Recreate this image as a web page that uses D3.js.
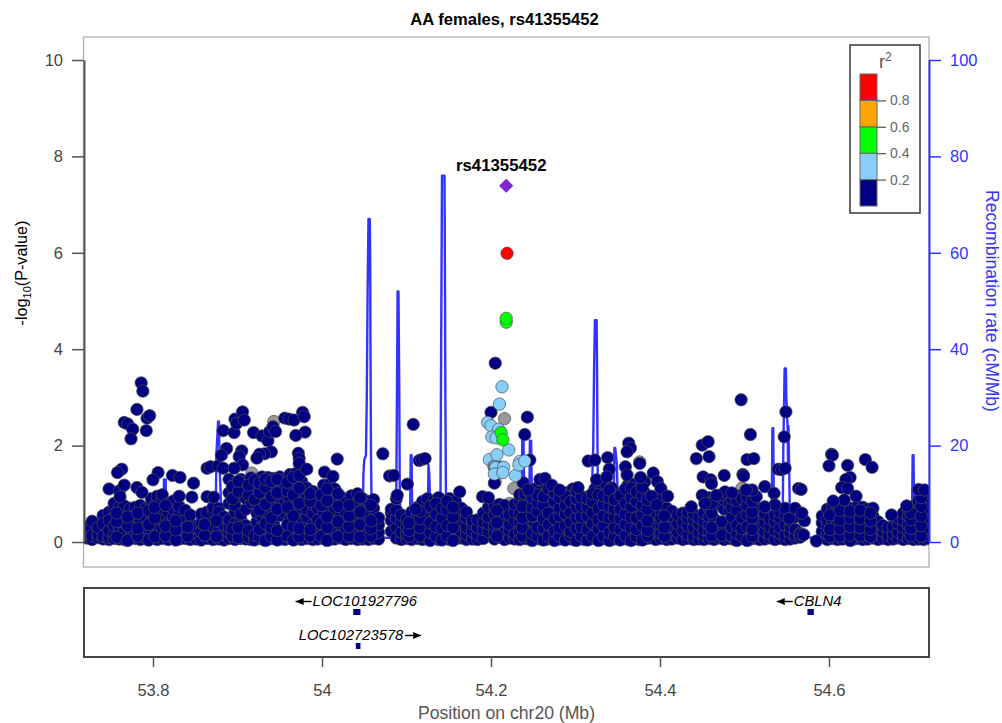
<!DOCTYPE html>
<html lang="en">
<head>
<meta charset="UTF-8">
<title>AA females, rs41355452</title>
<script src="https://d3js.org/d3.v7.min.js"></script>
<style>
  body { margin: 0; background: #fff; font-family: "Liberation Sans", Arial, sans-serif; }
  svg { display: block; }
</style>
</head>
<body>
<svg width="1002" height="723"></svg>
<script>
const leadSnp = { name: "rs41355452", pos: 54.218, logp: 7.39 };

const redPoints = [[54.219, 5.99]];

const greenPoints = [[54.218, 4.56], [54.218, 4.64], [54.212, 2.27], [54.214, 2.12]];

const bluePoints = [
  [54.213, 3.22], [54.210, 2.86], [54.196, 2.48], [54.200, 2.41], [54.209, 2.34], [54.201, 2.18],
  [54.206, 2.16], [54.221, 1.91], [54.198, 1.71], [54.2035, 1.58], [54.204, 1.55], [54.2045, 1.53],
  [54.205, 1.56], [54.2055, 1.54], [54.204, 1.41], [54.207, 1.81], [54.215, 1.55], [54.214, 1.44],
  [54.229, 1.38], [54.234, 1.67], [54.233, 1.60], [54.240, 1.68]
];

const grayPoints = [
  [53.943, 2.50], [53.917, 1.43], [53.868, .15], [54.216, 2.56], [54.227, 1.11], [54.222, .80],
  [54.205, 1.25], [54.497, 1.12], [54.378, 1.0], [54.376, 1.66]
];

// isolated points above the dense band
const navyPoints = [
  [53.786, 3.30], [53.788, 3.13], [53.781, 2.75], [53.766, 2.48], [53.770, 2.45], [53.776, 2.34],
  [53.774, 2.14], [53.793, 2.57], [53.796, 2.62], [53.792, 2.31], [53.763, 1.51], [53.758, 1.44],
  [53.748, 1.10], [53.760, 1.06], [53.766, 1.18], [53.761, .94], [53.781, 1.13], [53.787, 1.03],
  [53.806, 1.44], [53.800, 1.29], [53.823, 1.38], [53.832, 1.34], [53.848, 1.22], [53.831, .95],
  [53.846, .93], [53.864, .94], [53.872, .93], [53.864, 1.53], [53.868, 1.56], [53.877, 1.58],
  [53.883, 1.53], [53.883, 2.31], [53.887, 1.94], [53.881, 1.80], [53.896, 2.27], [53.897, 2.55],
  [53.899, 2.46], [53.906, 2.70], [53.908, 2.53], [53.905, 1.89], [53.902, 1.77], [53.906, 1.60],
  [53.896, 1.53], [53.919, 2.27], [53.929, 2.20], [53.936, 2.10], [53.938, 2.29], [53.942, 2.39],
  [53.945, 2.29], [53.940, 1.87], [53.932, 1.83], [53.926, 1.82], [53.923, 1.74], [53.956, 2.57],
  [53.961, 2.55], [53.967, 2.53], [53.977, 2.69], [53.979, 2.60], [53.980, 2.28], [53.969, 2.21],
  [53.972, 1.84], [53.973, 1.73], [53.973, 1.63], [53.982, 1.51], [54.018, 1.72], [54.003, 1.45],
  [54.013, 1.36], [54.072, 1.83], [54.108, 2.44], [54.080, 1.37], [54.085, 1.38], [54.101, 1.20],
  [54.115, 1.69], [54.118, 1.71], [54.122, 1.73], [54.089, .97], [54.111, .68], [54.163, 1.04],
  [54.190, .94], [54.197, .92], [54.205, 3.71], [54.200, 2.69], [54.243, 2.59], [54.240, 2.23],
  [54.246, 1.70], [54.212, 1.55], [54.204, 1.22], [54.315, 1.68], [54.323, 1.70], [54.338, 1.75],
  [54.340, 1.51], [54.359, 1.56], [54.363, 2.05], [54.365, 1.95], [54.361, 1.87], [54.376, 1.63],
  [54.377, 1.34], [54.392, 1.43], [54.397, 1.25], [54.401, 1.11], [54.409, .95], [54.390, .95],
  [54.396, .77], [54.361, 1.39], [54.325, 1.29], [54.337, 1.35], [54.238, 1.23], [54.244, 1.08],
  [54.258, 1.30], [54.264, 1.32], [54.272, 1.18], [54.281, 1.08], [54.303, 1.13], [54.496, 2.95],
  [54.507, 2.23], [54.549, 2.70], [54.547, 2.18], [54.450, 2.01], [54.457, 2.08], [54.443, 1.73],
  [54.458, 1.77], [54.503, 1.71], [54.511, 1.73], [54.498, 1.40], [54.499, 1.37], [54.476, 1.38],
  [54.451, 1.35], [54.460, 1.29], [54.461, 1.21], [54.540, 1.51], [54.544, 1.50], [54.548, 1.53],
  [54.524, 1.15], [54.535, 1.01], [54.450, .97], [54.453, .80], [54.564, 1.11], [54.567, 1.09],
  [54.603, 1.82], [54.604, 1.80], [54.600, 1.58], [54.622, 1.59], [54.643, 1.71], [54.651, 1.55],
  [54.625, 1.34], [54.620, 1.30], [54.615, 1.13], [54.622, 1.11], [54.632, .95], [54.618, .87],
  [54.605, .85], [54.706, 1.09], [54.713, 1.08], [54.692, .75], [54.674, .56], [54.585, .02],
  [54.570, .15], [54.571, .44], [54.553, .49], [54.536, .77], [54.524, .73], [54.514, .94],
  [54.509, 1.08], [54.502, 1.08], [54.560, .70], [54.568, .60], [54.437, .73], [54.477, 1.04],
  [54.485, 1.02], [54.467, .97]
];

// dense band near the baseline: [position, -log10(P) values read at that position]
const navyBand = [
  [53.722, [.08, .2, .32]], [53.728, [.05, .13, .43]], [53.735, [.09, .16, .3]],
  [53.741, [.06, .12, .55, .38]], [53.748, [.05, .1, .24, .62, .45]], [53.754, [.07, .18, .34, .68, .8]],
  [53.760, [.06, .15, .3, .5, .72]], [53.766, [.05, .22, .4, .62, .75]], [53.773, [.09, .26, .46, .58, .7]],
  [53.779, [.07, .17, .34, .55, .72]], [53.785, [.05, .2, .42, .66, .76]], [53.792, [.06, .14, .3, .52, .7]],
  [53.798, [.08, .24, .44, .6, .78, .9]], [53.805, [.05, .16, .36, .58, .84, .95]], [53.811, [.07, .28, .5, .7, .88, .98]],
  [53.818, [.05, .2, .4, .62, .8]], [53.824, [.08, .3, .52, .68, .85]], [53.831, [.06, .18, .36, .6, .74]],
  [53.838, [.07, .24, .46, .66]], [53.844, [.05, .15, .38, .56]], [53.851, [.06, .2, .3]],
  [53.857, [.04, .22, .4, .58]], [53.864, [.07, .28, .5, .62]], [53.871, [.05, .18, .33, .66, .72]],
  [53.878, [.06, .24, .42, .7, .62]], [53.884, [.04, .15, .36, .52]], [53.890, [.07, .2, .31, .46, .8, 1.02, 1.3]],
  [53.897, [.05, .18, .38, .62, .76, 1.0, 1.22]], [53.904, [.07, .22, .46, .58, .95, 1.3, 1.12]],
  [53.910, [.06, .14, .34, .68, .9, 1.08, 1.25]], [53.916, [.05, .25, .82, 1.0, 1.2, 1.33]],
  [53.923, [.08, .2, .42, .6, .78, .96, 1.14, 1.3]], [53.929, [.06, .15, .32, .52, .72, .9, 1.08, 1.35]],
  [53.936, [.05, .22, .44, .6, .84, 1.02, 1.2, 1.34]], [53.943, [.07, .18, .36, .65, .8, 1.1, 1.32]],
  [53.950, [.06, .14, .55, .74, .92, 1.15, 1.35]], [53.956, [.05, .2, .6, .82, 1.0, 1.18, 1.3]],
  [53.962, [.08, .26, .48, .66, .88, 1.1, 1.28, 1.4]], [53.969, [.06, .16, .38, .58, .76, .95, 1.2, 1.42]],
  [53.976, [.05, .22, .44, .7, .86, 1.04, 1.25]], [53.982, [.07, .3, .52, .68, .9, 1.12]],
  [53.989, [.05, .18, .36, .6, .78, .96, 1.05]], [53.995, [.06, .24, .46, .7, .88]],
  [54.002, [.07, .15, .34, .62, .8, 1.0, 1.18]], [54.009, [.05, .2, .42, .72, .92, 1.2]],
  [54.015, [.06, .28, .5, .66, .86, 1.1]], [54.022, [.08, .16, .36, .58, .78, .94]],
  [54.028, [.05, .24, .44, .62, .82]], [54.035, [.07, .2, .38, .72, .96]], [54.042, [.05, .15, .3, .56, .8, 1.0]],
  [54.048, [.06, .26, .46, .68, .9]], [54.055, [.05, .18, .36, .6, .84]], [54.061, [.07, .12, .34, .5, .7, .88]],
  [54.067, [.06, .2, .36, .5]], [54.082, [.22, .45, .6, .68]], [54.088, [.08, .3, .5, .66, .9]],
  [54.094, [.05, .2, .42, .56]], [54.100, [.07, .16, .3, .48]], [54.106, [.05, .26, .44, .62]],
  [54.113, [.07, .18, .36, .54, .72]], [54.119, [.05, .22, .4, .62, .84]], [54.125, [.06, .14, .32, .56, .9]],
  [54.132, [.08, .26, .46, .64, .85]], [54.138, [.05, .18, .34, .52, .74, .92]], [54.145, [.07, .22, .42, .6, .8]],
  [54.151, [.05, .15, .38, .58, .76, .9]], [54.158, [.06, .24, .44, .66, .84]], [54.165, [.08, .2, .36, .54, .7]],
  [54.171, [.05, .16, .3, .5, .62]], [54.178, [.06, .22, .38, .44]], [54.184, [.05, .15, .3, .46]],
  [54.191, [.07, .26, .42, .6]], [54.197, [.22, .38, .52, .72]], [54.204, [.06, .18, .34, .58, .74]],
  [54.210, [.1, .28, .46, .7, .78]], [54.216, [.05, .2, .42, .6, .76]], [54.222, [.08, .24, .36, .56]],
  [54.228, [.06, .16, .44, .62, .78]], [54.234, [.05, .22, .4, .58, .84, .98]], [54.240, [.07, .18, .34, .66, .9, 1.0]],
  [54.246, [.05, .26, .46, .62, .8, 1.0]], [54.252, [.08, .15, .38, .56, .74, .94, 1.1]], [54.258, [.06, .22, .42, .7, .88, 1.05]],
  [54.265, [.05, .18, .32, .52, .82, 1.0, 1.2]], [54.271, [.07, .26, .4, .78, .92, 1.1]], [54.278, [.05, .14, .36, .58, .74, .94]],
  [54.284, [.06, .2, .44, .64, .84, 1.0]], [54.291, [.08, .28, .5, .7, .9, 1.03]], [54.297, [.05, .16, .34, .56, .78, .98, 1.1]],
  [54.304, [.07, .22, .42, .6, .82, 1.0]], [54.310, [.05, .18, .38, .66, .86]], [54.317, [.06, .24, .46, .62, .8, .96]],
  [54.323, [.08, .15, .32, .52, .74, .94, 1.1]], [54.330, [.05, .2, .4, .6, .88, 1.06]], [54.336, [.07, .26, .44, .68, .84, 1.2]],
  [54.343, [.05, .16, .36, .58, .8, 1.0, 1.12]], [54.349, [.06, .22, .42, .64, .92, .74]], [54.356, [.08, .18, .3, .54, .76, 1.04]],
  [54.362, [.05, .24, .46, .66, .86, 1.18]], [54.369, [.07, .15, .38, .6, .78, .98, 1.2]], [54.375, [.05, .2, .42, .7, .9, 1.12]],
  [54.382, [.06, .28, .5, .62, .84, 1.02, 1.25]], [54.388, [.08, .16, .34, .56, .72, .92]], [54.395, [.05, .22, .4, .58, .6]],
  [54.401, [.07, .18, .36, .5, .66, .9]], [54.408, [.05, .26, .44, .6, .7]], [54.414, [.06, .15, .32, .54, .64]],
  [54.421, [.08, .2, .38, .56]], [54.427, [.05, .24, .42, .6]], [54.433, [.07, .16, .34, .5, .62]],
  [54.440, [.05, .12, .3, .46, .58]], [54.446, [.06, .2, .38, .5]], [54.452, [.05, .14, .26, .44, .6]],
  [54.458, [.07, .22, .36, .52, .7, .92]], [54.464, [.05, .16, .4, .48, .86]], [54.470, [.08, .24, .34, .9, .78]],
  [54.476, [.05, .18, .3, .68, .88]], [54.482, [.07, .14, .38, .66, .8, .98]], [54.488, [.05, .26, .46, .6, .84]],
  [54.494, [.06, .2, .4, .58, .74, .96]], [54.500, [.08, .16, .36, .62, .82, 1.0]], [54.506, [.05, .24, .44, .68, .9, 1.04]],
  [54.512, [.07, .18, .34, .56, .76, .96]], [54.518, [.05, .14, .3, .5, .66]], [54.524, [.06, .22, .4, .58]],
  [54.530, [.08, .16, .32, .48]], [54.536, [.05, .24, .42, .56]], [54.542, [.07, .18, .3, .5, .62]],
  [54.548, [.05, .14, .36, .56, .7]], [54.554, [.06, .2, .32, .44]], [54.560, [.08, .14, .26, .52]],
  [54.566, [.1, .18, .16]], [54.592, [.09, .22, .4, .54]], [54.598, [.05, .16, .32, .46, .68]],
  [54.604, [.07, .24, .42, .6, .74]], [54.610, [.05, .18, .36, .56, .76]], [54.616, [.06, .14, .3, .48, .66]],
  [54.622, [.08, .22, .4, .58, .72]], [54.628, [.05, .16, .34, .52, .7]], [54.634, [.07, .2, .38, .6, .74]],
  [54.640, [.05, .26, .44, .56, .72]], [54.646, [.06, .14, .32, .5, .68]], [54.652, [.08, .2, .36, .54, .7]],
  [54.658, [.05, .16, .28, .42]], [54.664, [.07, .22, .34]], [54.670, [.05, .14, .3]],
  [54.676, [.06, .18, .32]], [54.682, [.08, .2, .38, .5]], [54.688, [.05, .14, .3, .46, .6]],
  [54.694, [.07, .22, .36, .54, .68]], [54.700, [.05, .16, .4, .62, .74]], [54.706, [.06, .24, .44, .66, .86]],
  [54.712, [.05, .18, .34, .58, .8, .98]], [54.717, [.07, .14, .3, .52, .72, .94]]
];

// more points in the crowded stretches, read between the columns above
const navyBandExtra = [
  [53.757, [.1, .42, .6]], [53.770, [.03, .33, .52]], [53.782, [.12, .28, .6]], [53.795, [.04, .36, .65]],
  [53.802, [.11, .5, .72]], [53.815, [.13, .33, .76]], [53.827, [.04, .25, .44]], [53.841, [.12, .31]],
  [53.861, [.14, .36]], [53.875, [.11, .44]], [53.894, [.12, .28, .9, 1.15]], [53.901, [.09, .3, 1.05, 1.26]],
  [53.913, [.1, .24, .98, 1.18]], [53.920, [.04, .14, .88, 1.28]], [53.926, [.11, .26, .66, 1.02, 1.22]],
  [53.933, [.03, .38, .78, 1.14, 1.3]], [53.940, [.12, .3, .5, .94, 1.26]], [53.947, [.04, .24, .68, 1.02, 1.3]],
  [53.959, [.12, .36, .72, 1.06, 1.24]], [53.966, [.04, .32, .54, .98, 1.34]], [53.973, [.11, .28, .8, 1.12, 1.38]],
  [53.986, [.12, .26, .84, 1.0]], [53.999, [.12, .38, .76, .98]], [54.006, [.03, .3, .52, .86, 1.1]],
  [54.019, [.11, .42, .74, 1.0]], [54.032, [.12, .32, .54, .76]], [54.045, [.1, .36, .62, .92]],
  [54.058, [.12, .28, .44, .76]], [54.103, [.12, .24, .4]], [54.116, [.12, .3, .48, .64]],
  [54.128, [.03, .2, .4, .74]], [54.135, [.12, .32, .58, .8]], [54.142, [.04, .28, .5, .7]],
  [54.148, [.12, .34, .66, .84]], [54.155, [.03, .3, .52, .72]], [54.207, [.12, .4, .66]],
  [54.237, [.12, .3, .5, .74]], [54.249, [.03, .18, .54, .72, .92]], [54.255, [.12, .3, .64, .82, .98]],
  [54.262, [.04, .28, .48, .76, .94]], [54.268, [.12, .36, .6, 1.1]], [54.275, [.03, .22, .48, .84, 1.02]],
  [54.281, [.12, .3, .54, .7, .92]], [54.288, [.04, .34, .58, .76, .96]], [54.294, [.13, .22, .42, .62, .84]],
  [54.301, [.03, .28, .5, .72, .9, 1.06]], [54.307, [.12, .32, .52, .74, .94]], [54.314, [.04, .26, .54, .72, .9]],
  [54.320, [.11, .38, .6, .84, 1.0]], [54.327, [.03, .28, .46, .7, .98]], [54.333, [.12, .34, .54, .78, .96]],
  [54.340, [.03, .2, .5, .74, .92, 1.08]], [54.346, [.12, .3, .52, .7, .88]], [54.353, [.04, .26, .48, .68, .96]],
  [54.359, [.13, .36, .58, .8, 1.1]], [54.366, [.03, .3, .52, .74, .92, 1.12]], [54.372, [.11, .26, .5, .84, 1.04]],
  [54.379, [.04, .34, .56, .76, .96, 1.14]], [54.385, [.12, .24, .44, .68, .88]], [54.405, [.12, .3, .54]],
  [54.461, [.13, .3, .6, .8]], [54.473, [.14, .42, .98]], [54.485, [.12, .3, .52, .72, .9]],
  [54.491, [.03, .18, .34, .66, .86]], [54.497, [.12, .28, .5, .9]], [54.503, [.03, .32, .56, .76, .94]],
  [54.509, [.12, .26, .5, .62, .84]], [54.601, [.11, .26, .56]], [54.613, [.12, .28, .46, .66]],
  [54.625, [.03, .14, .32, .5, .64]], [54.637, [.13, .3, .48, .66]], [54.649, [.11, .26, .44, .6]],
  [54.697, [.13, .28, .46, .6]], [54.709, [.12, .34, .54, .74, .92]]
];

// recombination rate, cM/Mb
const recombPos = [
  53.718, 53.760, 53.790, 53.812, 53.813, 53.815, 53.816, 53.840, 53.874, 53.875, 53.877, 53.878, 53.879, 53.882,
  53.960, 54.030, 54.048, 54.049, 54.050, 54.052, 54.053, 54.054, 54.0550, 54.0565, 54.0570, 54.0575, 54.058, 54.059,
  54.087, 54.088, 54.0895, 54.0905, 54.0915, 54.092, 54.093, 54.104, 54.105, 54.106, 54.107, 54.125, 54.126, 54.127, 54.129,
  54.140, 54.141, 54.142, 54.1425, 54.1445, 54.145, 54.1455, 54.146, 54.147, 54.236, 54.237, 54.2385, 54.240,
  54.245, 54.246, 54.2475, 54.249, 54.318, 54.320, 54.321, 54.322, 54.323, 54.325, 54.3255, 54.326, 54.327, 54.345, 54.346, 54.347, 54.349, 54.351,
  54.532, 54.533, 54.534, 54.535, 54.545, 54.546, 54.5475, 54.5490, 54.5495, 54.551, 54.5515, 54.552, 54.553, 54.554,
  54.698, 54.699, 54.700, 54.7005, 54.701, 54.718
];
const recombRate = [
  .5, .6, .5, .8, 13, 13, .8, .5, 1, 18, 25, 25, 15, 1,
  .5, .6, 1, 14, 17, 18, 30, 52, 67, 67, 60, 35, 18, 1,
  .8, 12, 52, 52, 30, 12, 1, .8, 18, 18, 1, .8, 16, 14, 1,
  1, 40, 76, 76, 76, 76, 55, 30, 1, .6, 21, 21, 1,
  1, 21, 21, 1, .6, 14, 20, 36, 46, 46, 36, 20, 1, 1, 19.5, 19.5, 16, 1,
  .6, 23.6, 23.6, 1, 1, 20, 36, 36, 30, 24, 16, 24, 14, 1,
  .6, 18, 18, 10, 1, .6
];

const r2Ticks = [0.2, 0.4, 0.6, 0.8];
const r2Bands = [[0, .2, "#000080"], [.2, .4, "#87CEFA"], [.4, .6, "#00FF00"], [.6, .8, "#FFA500"], [.8, 1, "#FF0000"]];

const genes = [
  { name: "LOC101927796", start: 54.037, end: 54.0455, strand: -1, row: 0 },
  { name: "LOC102723578", start: 54.040, end: 54.0455, strand: 1, row: 1 },
  { name: "CBLN4", start: 54.5745, end: 54.582, strand: -1, row: 0 }
];

const logpTicks = [0, 2, 4, 6, 8, 10];
const rateTicks = [0, 20, 40, 60, 80, 100];
const posTicks = [53.8, 54, 54.2, 54.4, 54.6];

const svg = d3.select("svg");
const frame = { left: 84, right: 929, top: 37, bottom: 567 };
const genePanel = { top: 588, bottom: 657 };

const x = d3.scaleLinear().domain([53.8, 54.6]).range([153, 829]);
const y = d3.scaleLinear().domain([0, 10]).range([542, 60]);
const yRate = d3.scaleLinear().domain([0, 100]).range([542, 60]);
const yR2 = d3.scaleLinear().domain([0, 1]).range([206, 74]);

const gray = "#555";
const blue = "#3333FF";

svg.append("defs").append("clipPath").attr("id", "plotClip").append("rect")
  .attr("x", frame.left).attr("y", frame.top)
  .attr("width", frame.right - frame.left).attr("height", frame.bottom - frame.top);

// main panel frame
svg.append("rect")
  .attr("x", frame.left - .5).attr("y", frame.top)
  .attr("width", frame.right - frame.left + .5).attr("height", frame.bottom - frame.top)
  .attr("fill", "none").attr("stroke", "#b0b0b0").attr("stroke-width", 1.3);

// recombination line
const recombLine = d3.line().x(d => x(d[0])).y(d => yRate(d[1]));
svg.append("path")
  .datum(recombPos.map((p, i) => [p, recombRate[i]]))
  .attr("clip-path", "url(#plotClip)")
  .attr("fill", "none").attr("stroke", blue).attr("stroke-width", 2.4)
  .attr("stroke-linejoin", "round")
  .attr("d", recombLine);

// points
const bandPoints = navyBand.concat(navyBandExtra).flatMap(c => c[1].map(v => [c[0], v]));
const layers = [
  [grayPoints, "#999999"],
  [bandPoints, "#000080"],
  [navyPoints, "#000080"],
  [bluePoints, "#87CEFA"],
  [greenPoints, "#00FF00"],
  [redPoints, "#FF0000"]
];
const pts = svg.append("g").attr("clip-path", "url(#plotClip)");
layers.forEach(([list, color]) => {
  pts.append("g").selectAll("circle")
    .data(list)
    .enter().append("circle")
    .attr("cx", d => x(d[0]))
    .attr("cy", d => y(d[1]))
    .attr("r", 6.2)
    .attr("fill", color)
    .attr("stroke", "#4f4f4f")
    .attr("stroke-width", .7);
});

// lead snp
svg.append("path")
  .attr("d", d3.symbol().type(d3.symbolSquare).size(100)())
  .attr("transform", `translate(${x(leadSnp.pos)},${y(leadSnp.logp)}) rotate(45)`)
  .attr("fill", "#7D26CD");
svg.append("text")
  .attr("x", x(leadSnp.pos) - 5).attr("y", y(leadSnp.logp) - 15)
  .attr("text-anchor", "middle")
  .attr("font-size", 16.8).attr("font-weight", "bold")
  .text(leadSnp.name);

// left axis
const leftAxis = svg.append("g").attr("transform", `translate(${frame.left},0)`)
  .call(d3.axisLeft(y).tickValues(logpTicks).tickSize(12).tickPadding(9).tickSizeOuter(0));
leftAxis.select(".domain").attr("stroke", gray).attr("stroke-width", 2);
leftAxis.selectAll(".tick line").attr("stroke", gray).attr("stroke-width", 1.5);
leftAxis.selectAll("text").attr("fill", "#444").attr("font-size", 16.5).attr("font-family", "Liberation Sans");

// right axis
const rightAxis = svg.append("g").attr("transform", `translate(${frame.right},0)`)
  .call(d3.axisRight(yRate).tickValues(rateTicks).tickSize(12).tickPadding(9).tickSizeOuter(0));
rightAxis.select(".domain").attr("stroke", blue).attr("stroke-width", 2);
rightAxis.selectAll(".tick line").attr("stroke", blue).attr("stroke-width", 1.5);
rightAxis.selectAll("text").attr("fill", blue).attr("font-size", 16.5).attr("font-family", "Liberation Sans");

// titles
svg.append("text").attr("x", 504.5).attr("y", 25).attr("text-anchor", "middle")
  .attr("font-size", 16.6).attr("font-weight", "bold").text("AA females, rs41355452");

const yTitle = svg.append("text")
  .attr("transform", "translate(27,273) rotate(-90)")
  .attr("text-anchor", "middle").attr("font-size", 16.2);
yTitle.append("tspan").text("-log");
yTitle.append("tspan").attr("font-size", 11).attr("dy", 4).text("10");
yTitle.append("tspan").attr("dy", -4).text("(P-value)");

svg.append("text")
  .attr("transform", "translate(986,301) rotate(90)")
  .attr("text-anchor", "middle").attr("font-size", 17.6).attr("fill", blue)
  .text("Recombination rate (cM/Mb)");

// r2 legend
const legend = svg.append("g");
legend.append("rect").attr("x", 850).attr("y", 45).attr("width", 70).attr("height", 168)
  .attr("fill", "#fff").attr("stroke", "#444").attr("stroke-width", 1.6);
legend.selectAll(".band")
  .data(r2Bands)
  .enter().append("rect").attr("class", "band")
  .attr("x", 860).attr("width", 17)
  .attr("y", d => yR2(d[1]))
  .attr("height", d => yR2(d[0]) - yR2(d[1]))
  .attr("fill", d => d[2])
  .attr("stroke", "#666").attr("stroke-width", 1);
const legendAxis = legend.append("g").attr("transform", "translate(877,0)")
  .call(d3.axisRight(yR2).tickValues(r2Ticks).tickFormat(d3.format(".1f")).tickSize(9).tickPadding(4).tickSizeOuter(0));
legendAxis.select(".domain").remove();
legendAxis.selectAll(".tick line").attr("stroke", "#555").attr("stroke-width", 1.2);
legendAxis.selectAll("text").attr("fill", "#666").attr("font-size", 14).attr("font-family", "Liberation Sans");
const r2Title = legend.append("text").attr("x", 879).attr("y", 68).attr("font-size", 18).attr("fill", "#555");
r2Title.append("tspan").text("r");
r2Title.append("tspan").attr("font-size", 12).attr("dy", -7).text("2");

// gene panel
svg.append("rect")
  .attr("x", frame.left).attr("y", genePanel.top)
  .attr("width", frame.right - frame.left).attr("height", genePanel.bottom - genePanel.top)
  .attr("fill", "none").attr("stroke", "#444").attr("stroke-width", 2);

const arrowLen = 16;
const rowY = row => 612 + row * 34;
const gene = svg.selectAll(".gene").data(genes).enter().append("g").attr("class", "gene");
gene.append("rect")
  .attr("x", d => x(d.start)).attr("width", d => x(d.end) - x(d.start))
  .attr("y", d => rowY(d.row) - 3).attr("height", 6)
  .attr("fill", "#000080");
const geneLabel = gene.append("text")
  .attr("x", d => (x(d.start) + x(d.end)) / 2 + (d.strand < 0 ? (d.name === "CBLN4" ? 7 : 8) : -7))
  .attr("y", d => rowY(d.row) - 6)
  .attr("text-anchor", "middle")
  .attr("font-size", 14.8).attr("font-style", "italic")
  .text(d => d.name);
geneLabel.each(function(d) {
  const box = this.getBBox();
  const g = d3.select(this.parentNode);
  const ay = box.y + box.height / 2 + .5;
  const x0 = d.strand < 0 ? box.x - 1 : box.x + box.width + 1;
  const x1 = x0 + d.strand * arrowLen;
  g.append("line").attr("x1", x0).attr("x2", x1).attr("y1", ay).attr("y2", ay)
    .attr("stroke", "#000").attr("stroke-width", 1.4);
  g.append("path")
    .attr("d", `M${x1},${ay}l${-d.strand * 8},-3.5l0,7z`)
    .attr("fill", "#000");
});

// bottom axis
const bottomAxis = svg.append("g").attr("transform", `translate(0,${genePanel.bottom})`)
  .call(d3.axisBottom(x).tickValues(posTicks).tickFormat(d3.format("")).tickSize(10).tickPadding(17).tickSizeOuter(0));
bottomAxis.select(".domain").remove();
bottomAxis.selectAll(".tick line").attr("stroke", gray).attr("stroke-width", 1.5);
bottomAxis.selectAll("text").attr("fill", "#444").attr("font-size", 16.5).attr("font-family", "Liberation Sans");

svg.append("text").attr("x", 506.5).attr("y", 719).attr("text-anchor", "middle")
  .attr("font-size", 17.6).attr("fill", "#555").text("Position on chr20 (Mb)");
</script>
</body>
</html>
